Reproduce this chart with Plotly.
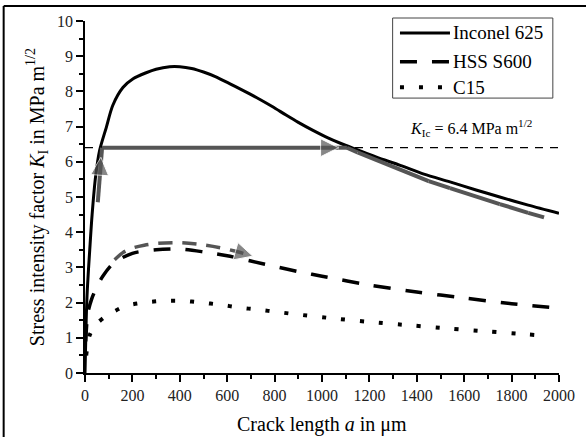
import plotly.graph_objects as go

# ---------------- data ----------------
inconel_x = [0, 5, 10, 20, 30, 45, 62, 90, 117, 160, 203, 258, 300, 357, 400, 450, 500, 550, 610, 660, 725, 790, 850, 900, 960, 1025, 1080, 1145, 1230, 1330, 1430, 1540, 1650, 1750, 1870, 2000]
inconel_y = [0, 1.5, 2.4, 3.5, 4.5, 5.6, 6.33, 6.98, 7.6, 8.11, 8.36, 8.53, 8.63, 8.7, 8.7, 8.65, 8.55, 8.42, 8.22, 8.05, 7.82, 7.57, 7.32, 7.12, 6.9, 6.68, 6.52, 6.35, 6.13, 5.9, 5.65, 5.43, 5.2, 5.0, 4.77, 4.54]

hss_x = [3, 12, 28, 50, 75, 120, 200, 300, 400, 500, 600, 700, 800, 900, 1000, 1200, 1400, 1600, 1800, 2000]
hss_y = [0.9, 1.7, 2.1, 2.45, 2.75, 3.12, 3.4, 3.5, 3.52, 3.44, 3.33, 3.18, 3.03, 2.88, 2.75, 2.5, 2.3, 2.13, 1.97, 1.84]

c15_x = [5, 20, 50, 90, 170, 250, 330, 410, 490, 570, 650, 730, 815, 900, 1050, 1200, 1380, 1540, 1700, 1860, 1940]
c15_y = [0.5, 1.08, 1.4, 1.62, 1.9, 2.0, 2.05, 2.05, 2.0, 1.94, 1.86, 1.8, 1.73, 1.66, 1.55, 1.45, 1.35, 1.26, 1.18, 1.1, 1.06]

kic_x = [0, 2000]
kic_y = [6.4, 6.4]

# crack path of Inconel 625 (grey arrows); heads marked with 1
path_x = [54, 67, 72, 1070, 1105, 1150, 1200, 1330, 1450, 1540, 1650, 1750, 1870, 2010]
path_y = [4.85, 6.13, 6.4, 6.4, 6.4, 6.27, 6.13, 5.76, 5.45, 5.25, 5.0, 4.8, 4.55, 4.28]
path_head = [0, 1, 0, 1, 0, 0, 0, 0, 0, 0, 0, 0, 0, 1]

# crack path of HSS S600 (grey dashed arrow)
hpath_x = [125, 160, 200, 250, 300, 400, 500, 570, 640, 708]
hpath_y = [3.22, 3.42, 3.55, 3.63, 3.68, 3.70, 3.64, 3.56, 3.45, 3.32]
hpath_head = [0, 0, 0, 0, 0, 0, 0, 0, 0, 1]

legend_names = ["Inconel 625", "HSS S600", "C15"]

FONT = "Liberation Serif"
GREY = "#555555"

fig = go.Figure()

fig.add_trace(go.Scatter(x=kic_x, y=kic_y, mode="lines", showlegend=False,
                         line=dict(color="black", width=1.3, dash="8px,7px")))

fig.add_trace(go.Scatter(x=inconel_x, y=inconel_y, mode="lines", name=legend_names[0], showlegend=False,
                         line=dict(color="black", width=3, shape="spline", smoothing=0.8)))
fig.add_trace(go.Scatter(x=hss_x, y=hss_y, mode="lines", name=legend_names[1], showlegend=False,
                         line=dict(color="black", width=3.5, dash="17px,15px", shape="spline", smoothing=0.8)))
fig.add_trace(go.Scatter(x=c15_x, y=c15_y, mode="lines", name=legend_names[2], showlegend=False,
                         line=dict(color="black", width=4, dash="4px,15px", shape="spline", smoothing=0.8)))

fig.add_trace(go.Scatter(x=path_x, y=path_y, mode="lines+markers", showlegend=False, cliponaxis=False,
                         line=dict(color=GREY, width=4),
                         marker=dict(symbol="arrow-up", angleref="previous", color=GREY,
                                     size=[18 * h for h in path_head])))
fig.add_trace(go.Scatter(x=hpath_x, y=hpath_y, mode="lines+markers", showlegend=False, cliponaxis=False,
                         line=dict(color=GREY, width=3.5, dash="14px,10px", shape="spline", smoothing=0.8),
                         marker=dict(symbol="arrow-up", angleref="previous", color=GREY,
                                     size=[18 * h for h in hpath_head])))

axis_common = dict(showline=True, linecolor="black", linewidth=1.5, ticks="outside", ticklen=7,
                   tickwidth=1.5, tickcolor="black", showgrid=False, zeroline=False)

fig.update_layout(
    width=586, height=437,
    margin=dict(l=85, r=27, t=21, b=64),
    paper_bgcolor="white", plot_bgcolor="white",
    font=dict(family=FONT, color="black", size=16),
    xaxis=dict(range=[0, 2000], dtick=200, tick0=0,
               minor=dict(dtick=100, ticks="outside", ticklen=4, tickwidth=1.5, tickcolor="black"),
               **axis_common),
    yaxis=dict(range=[0, 10], dtick=1, tick0=0,
               minor=dict(dtick=0.5, ticks="outside", ticklen=4, tickwidth=1.5, tickcolor="black"),
               **axis_common),
    showlegend=False,
)
fig.update_xaxes(tickfont=dict(family=FONT, size=16, color="#222"))
fig.update_yaxes(tickfont=dict(family=FONT, size=16, color="#222"))

# axis titles
fig.add_annotation(text="Crack length <i>a</i> in μm", xref="paper", yref="paper", x=0.5, y=-0.145,
                   xanchor="center", yanchor="middle", showarrow=False, font=dict(family=FONT, size=20))
fig.add_annotation(text="Stress intensity factor <i>K</i><sub>I</sub> in MPa m<sup>1/2</sup>",
                   xref="paper", yref="paper", x=-0.101, y=0.5, textangle=-90,
                   xanchor="center", yanchor="middle", showarrow=False, font=dict(family=FONT, size=20))

# K_Ic label
fig.add_annotation(text="<i>K</i><sub>Ic</sub> = 6.4 MPa m<sup>1/2</sup>", x=1627, y=6.95, xref="x", yref="y",
                   showarrow=False, xanchor="center", yanchor="middle", font=dict(family=FONT, size=16))

# outer frame (left and top edges)
fig.add_shape(type="line", xref="paper", yref="paper", x0=-0.1716, x1=-0.1716, y0=-0.2, y1=1.0426,
              line=dict(color="black", width=2))
fig.add_shape(type="line", xref="paper", yref="paper", x0=-0.1716, x1=1.1, y0=1.0426, y1=1.0426,
              line=dict(color="black", width=2))

# legend box
fig.add_shape(type="rect", xref="paper", yref="paper", x0=0.649, x1=0.987, y0=0.781, y1=1.0085,
              line=dict(color="#444", width=1), fillcolor="white", layer="above")
rows = [0.966, 0.884, 0.812]
styles = [dict(width=3, dash="solid"), dict(width=3.5, dash="17px,15px"), dict(width=4, dash="4px,15px")]
for name, yy, st in zip(legend_names, rows, styles):
    fig.add_shape(type="line", xref="paper", yref="paper", x0=0.6645, x1=0.770, y0=yy, y1=yy,
                  line=dict(color="black", **st), layer="above")
    fig.add_annotation(text=name, xref="paper", yref="paper", x=0.773, y=yy, xanchor="left", yanchor="middle",
                       showarrow=False, font=dict(family=FONT, size=19))

fig.write_html("out.html", config={"displayModeBar": False},
               post_script="document.body.style.margin='0';document.body.style.padding='0';")
